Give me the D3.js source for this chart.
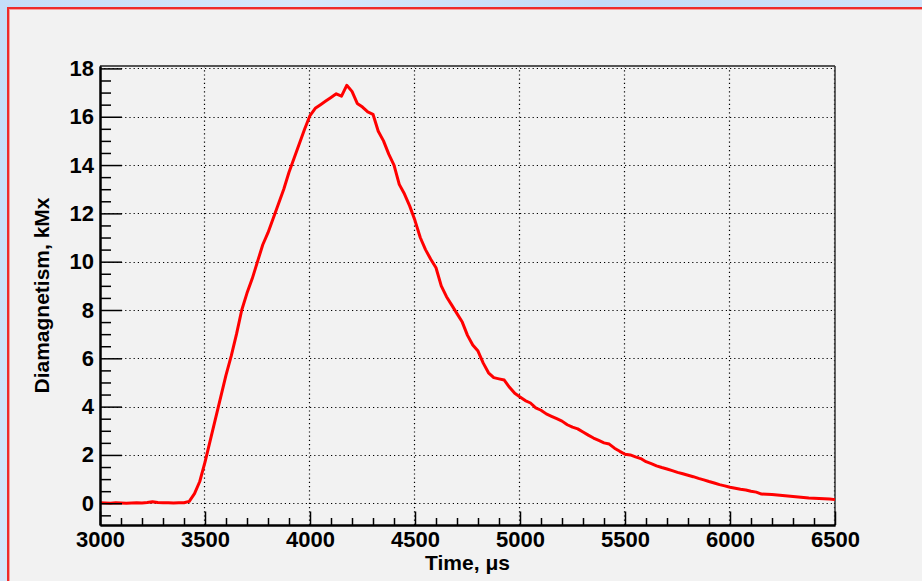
<!DOCTYPE html>
<html>
<head>
<meta charset="utf-8">
<script src="https://cdn.jsdelivr.net/npm/d3@7"></script>
<style>
  html, body { margin: 0; padding: 0; }
  body { width: 922px; height: 581px; overflow: hidden; }
  svg { display: block; }
</style>
</head>
<body>
<svg id="chart" width="922" height="581"></svg>
<script>
// ---- data ----
const times = [
  3000, 3025, 3050, 3075, 3100, 3125, 3150, 3175, 3200, 3225, 3250, 3275, 3300, 3325, 3350, 3375,
  3400, 3425, 3450, 3475, 3500, 3525, 3550, 3575, 3600, 3625, 3650, 3675, 3700, 3725, 3750, 3775,
  3800, 3825, 3850, 3875, 3900, 3925, 3950, 3975, 4000, 4025, 4050, 4075, 4100, 4125, 4150, 4175,
  4200, 4225, 4250, 4275, 4300, 4325, 4350, 4375, 4400, 4425, 4450, 4475, 4500, 4525, 4550, 4575,
  4600, 4625, 4650, 4675, 4700, 4725, 4750, 4775, 4800, 4825, 4850, 4875, 4900, 4925, 4950, 4975,
  5000, 5025, 5050, 5075, 5100, 5125, 5150, 5175, 5200, 5225, 5250, 5275, 5300, 5325, 5350, 5375,
  5400, 5425, 5450, 5475, 5500, 5525, 5550, 5575, 5600, 5625, 5650, 5675, 5700, 5725, 5750, 5775,
  5800, 5825, 5850, 5875, 5900, 5925, 5950, 5975, 6000, 6025, 6050, 6075, 6100, 6125, 6150, 6175,
  6200, 6225, 6250, 6275, 6300, 6325, 6350, 6375, 6400, 6425, 6450, 6475, 6500
];
const diamagnetism = [
  0.02, 0.01, 0.00, 0.02, 0.01, 0.00, 0.01, 0.02, 0.01, 0.03, 0.06, 0.03, 0.02, 0.02, 0.01, 0.02,
  0.02, 0.08, 0.40, 0.90, 1.70, 2.60, 3.50, 4.40, 5.30, 6.10, 7.00, 8.00, 8.70, 9.30, 10.0, 10.7,
  11.2, 11.8, 12.4, 13.0, 13.7, 14.3, 14.9, 15.5, 16.05, 16.35, 16.5, 16.65, 16.8, 16.95, 16.85, 17.3,
  17.05, 16.55, 16.4, 16.2, 16.1, 15.4, 15.0, 14.45, 14.0, 13.2, 12.8, 12.3, 11.7, 11.0, 10.5, 10.1,
  9.75, 9.00, 8.55, 8.20, 7.85, 7.50, 6.95, 6.55, 6.30, 5.80, 5.40, 5.20, 5.15, 5.10, 4.80, 4.55,
  4.40, 4.25, 4.15, 3.95, 3.85, 3.70, 3.60, 3.50, 3.40, 3.25, 3.15, 3.08, 2.95, 2.82, 2.70, 2.60,
  2.50, 2.45, 2.28, 2.15, 2.03, 2.00, 1.92, 1.85, 1.72, 1.64, 1.55, 1.48, 1.42, 1.35, 1.28, 1.22,
  1.16, 1.10, 1.03, 0.97, 0.90, 0.84, 0.77, 0.72, 0.66, 0.62, 0.58, 0.55, 0.50, 0.46, 0.38, 0.37,
  0.36, 0.34, 0.32, 0.30, 0.28, 0.26, 0.24, 0.22, 0.21, 0.20, 0.19, 0.18, 0.15
];
const xMajorTicks = [3000, 3500, 4000, 4500, 5000, 5500, 6000, 6500];
const xMinorTicks = [3100, 3200, 3300, 3400, 3600, 3700, 3800, 3900, 4100, 4200, 4300, 4400,
  4600, 4700, 4800, 4900, 5100, 5200, 5300, 5400, 5600, 5700, 5800, 5900, 6100, 6200, 6300, 6400];
const yMajorTicks = [0, 2, 4, 6, 8, 10, 12, 14, 16, 18];
const yMinorTicks = [-0.5, 0.5, 1, 1.5, 2.5, 3, 3.5, 4.5, 5, 5.5, 6.5, 7, 7.5, 8.5, 9, 9.5,
  10.5, 11, 11.5, 12.5, 13, 13.5, 14.5, 15, 15.5, 16.5, 17, 17.5];
const xDomain = [3000, 6500];
const yDomain = [-0.9, 18.1];
const xTitle = "Time, ";
const xTitleUnit = "\u03BCs";
const yTitle = "Diamagnetism, kMx";

// ---- layout ----
const W = 922, H = 581;
const frame = { left: 100, right: 835, top: 66, bottom: 525 };
const FONT = "'Liberation Sans', Arial, Helvetica, sans-serif";

const svg = d3.select("#chart");

// window background
const defs = svg.append("defs");
const grad = defs.append("linearGradient").attr("id", "bg").attr("x1", "0").attr("y1", "0").attr("x2", "1").attr("y2", "0.3");
grad.append("stop").attr("offset", "0%").attr("stop-color", "#c4ddf8");
grad.append("stop").attr("offset", "30%").attr("stop-color", "#d7e8fb");
grad.append("stop").attr("offset", "60%").attr("stop-color", "#c2dbf7");
grad.append("stop").attr("offset", "100%").attr("stop-color", "#d4e6fa");
svg.append("rect").attr("width", W).attr("height", H).attr("fill", "url(#bg)");

// canvas with red border
svg.append("rect").attr("x", 8).attr("y", 8).attr("width", W + 10).attr("height", H + 10)
  .attr("fill", "#f2f2f2").attr("stroke", "#ee2b2b").attr("stroke-width", 2);
svg.append("rect").attr("x", 9.5).attr("y", 9.5).attr("width", W + 10).attr("height", H + 10)
  .attr("fill", "none").attr("stroke", "#f7a0a0").attr("stroke-width", 1);

const x = d3.scaleLinear().domain(xDomain).range([frame.left, frame.right]);
const y = d3.scaleLinear().domain(yDomain).range([frame.bottom, frame.top]);

// grid (dotted)
const grid = svg.append("g").attr("stroke", "#000").attr("stroke-width", 1.2).attr("stroke-dasharray", "1.2,3");
grid.selectAll("line.h").data(yMajorTicks).join("line").attr("class", "h")
  .attr("x1", frame.left).attr("x2", frame.right)
  .attr("y1", d => Math.round(y(d)) + 0.5).attr("y2", d => Math.round(y(d)) + 0.5);
grid.selectAll("line.v").data(xMajorTicks.filter(d => d > xDomain[0])).join("line").attr("class", "v")
  .attr("y1", frame.top).attr("y2", frame.bottom)
  .attr("x1", d => Math.round(x(d)) - 0.5).attr("x2", d => Math.round(x(d)) - 0.5);

// frame (top/right)
svg.append("line").attr("x1", frame.left).attr("x2", frame.right).attr("y1", frame.top).attr("y2", frame.top)
  .attr("stroke", "#555").attr("stroke-width", 2);
svg.append("line").attr("x1", frame.right).attr("x2", frame.right).attr("y1", frame.top).attr("y2", frame.bottom)
  .attr("stroke", "#333").attr("stroke-width", 1.5);

// data line
const data = times.map((t, i) => [t, diamagnetism[i]]);
svg.append("path").datum(data)
  .attr("fill", "none").attr("stroke", "#ff0000").attr("stroke-width", 3)
  .attr("stroke-linejoin", "round")
  .attr("d", d3.line().x(d => x(d[0])).y(d => y(d[1])).curve(d3.curveLinear));

// axes
function styleAxis(g) {
  g.select(".domain").attr("stroke", "#000").attr("stroke-width", 2);
  g.selectAll(".tick line").attr("stroke", "#000").attr("stroke-width", 1.5);
  g.selectAll(".tick text").attr("font-family", FONT).attr("font-weight", "bold")
    .attr("font-size", 22).attr("fill", "#000");
}
const yAxisMinor = d3.axisLeft(y).tickValues(yMinorTicks).tickSize(-11).tickFormat("").tickSizeOuter(0);
const yAxisMajor = d3.axisLeft(y).tickValues(yMajorTicks).tickSize(-22).tickPadding(6).tickSizeOuter(0).tickFormat(d3.format("d"));
svg.append("g").attr("transform", `translate(${frame.left},0)`).call(yAxisMinor).call(styleAxis);
svg.append("g").attr("transform", `translate(${frame.left},0)`).call(yAxisMajor).call(styleAxis);

const xAxisMinor = d3.axisBottom(x).tickValues(xMinorTicks).tickSize(-7).tickFormat("").tickSizeOuter(0);
const xAxisMajor = d3.axisBottom(x).tickValues(xMajorTicks).tickSize(-13.5).tickPadding(6).tickSizeOuter(0).tickFormat(d3.format("d"));
svg.append("g").attr("transform", `translate(0,${frame.bottom})`).call(xAxisMinor).call(styleAxis);
svg.append("g").attr("transform", `translate(0,${frame.bottom})`).call(xAxisMajor).call(styleAxis);

// titles
const xt = svg.append("text").attr("x", (frame.left + frame.right) / 2).attr("y", 570)
  .attr("text-anchor", "middle").attr("font-family", FONT).attr("font-size", 21).attr("font-weight", "bold").attr("fill", "#000");
xt.append("tspan").text(xTitle);
xt.append("tspan").attr("font-weight", "bold").text(xTitleUnit);

svg.append("text")
  .attr("transform", `translate(49,${(frame.top + frame.bottom) / 2}) rotate(-90)`)
  .attr("text-anchor", "middle").attr("font-family", FONT).attr("font-size", 21).attr("font-weight", "bold").attr("fill", "#000")
  .text(yTitle);
</script>
</body>
</html>
